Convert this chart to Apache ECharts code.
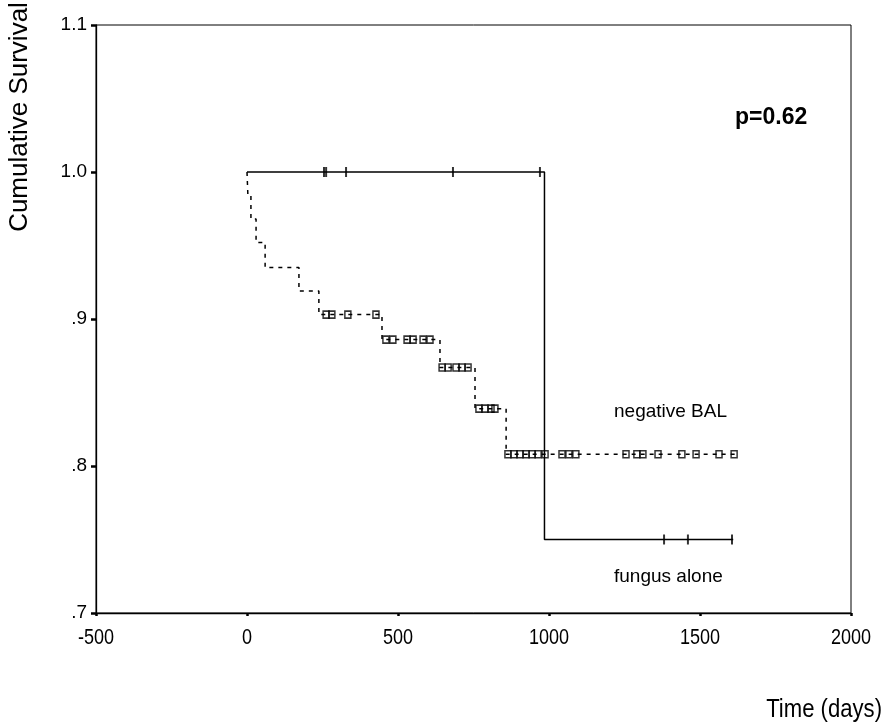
<!DOCTYPE html>
<html>
<head>
<meta charset="utf-8">
<script src="https://cdn.jsdelivr.net/npm/echarts@6/dist/echarts.min.js"></script>
<style>html,body{margin:0;padding:0;background:#fff}#c{width:883px;height:725px}</style>
</head>
<body>
<div id="c"></div>
<script>
// ---- data ----
const xTickValues = [-500, 0, 500, 1000, 1500, 2000];
const xTickLabels = ['-500', '0', '500', '1000', '1500', '2000'];
const yTickLabels = ['.7', '.8', '.9', '1.0', '1.1'];

// fungus alone (solid)
const fungusStepDays = [0, 985, 1610];
const fungusStepSurv = [1.0, 0.75, 0.75];
const fungusCensorDays = [255, 262, 328, 682, 970, 1381, 1460, 1606];

// negative BAL (dashed)
const negStepDays = [0, 3, 13, 30, 60, 172, 238, 447, 639, 755, 858, 1620];
const negStepSurv = [1.0, 0.984, 0.968, 0.952, 0.935, 0.919, 0.903, 0.886, 0.867, 0.839, 0.808, 0.808];
const negCensorDays = [262, 281, 334, 427, 460, 483, 530, 550, 583, 606, 646, 666, 692, 712, 732,
  768, 788, 808, 821, 864, 884, 904, 924, 944, 964, 987, 1043, 1066, 1089,
  1255, 1291, 1311, 1361, 1440, 1487, 1563, 1613];

function survAt(days, surv, t) {
  let s = surv[0];
  for (let i = 0; i < days.length; i++) { if (days[i] <= t) s = surv[i]; }
  return s;
}
const zip = (a, b) => a.map((v, i) => [v, b[i]]);

const FONT = '"Liberation Sans", Arial, sans-serif';
const chart = echarts.init(document.getElementById('c'), null, { renderer: 'canvas' });
chart.setOption({
  animation: false,
  backgroundColor: '#fff',
  grid: { left: 96, top: 25, right: 32, bottom: 112, show: true, borderColor: '#000', borderWidth: 1, backgroundColor: 'transparent' },
  xAxis: {
    type: 'value', min: -500, max: 2000, interval: 500,
    axisLine: { show: true, onZero: false, lineStyle: { color: '#000', width: 1.3 } },
    axisTick: { show: true, length: 3, lineStyle: { color: '#000', width: 2.5 } },
    axisLabel: { show: false },
    splitLine: { show: false }
  },
  yAxis: {
    type: 'value', min: 0.7, max: 1.1, interval: 0.1,
    axisLine: { show: true, onZero: false, lineStyle: { color: '#000', width: 1.3 } },
    axisTick: { show: true, length: 5, lineStyle: { color: '#000', width: 2.5 } },
    axisLabel: { color: '#000', fontFamily: FONT, fontSize: 19, margin: 9,
      formatter: v => yTickLabels[Math.round((v - 0.7) * 10)] },
    splitLine: { show: false }
  },
  series: [
    { type: 'line', step: 'end', symbol: 'none', data: zip(fungusStepDays, fungusStepSurv),
      lineStyle: { color: '#000', width: 1.5 } },
    { type: 'line', step: 'end', symbol: 'none', data: zip(negStepDays, negStepSurv),
      lineStyle: { color: '#000', width: 1.5, type: [4, 5] } },
    { type: 'scatter', symbol: 'rect', symbolSize: [2, 10],
      data: fungusCensorDays.map(d => [d, survAt(fungusStepDays, fungusStepSurv, d)]),
      itemStyle: { color: '#000' }, z: 5 },
    { type: 'scatter', symbol: 'rect', symbolSize: [6, 7],
      data: negCensorDays.map(d => [d, survAt(negStepDays, negStepSurv, d)]),
      itemStyle: { color: 'transparent', borderColor: '#000', borderWidth: 1.6 }, z: 5 }
  ]
});

// condensed x tick labels placed through the x axis scale
const axisY = chart.convertToPixel({ yAxisIndex: 0 }, 0.7);
const xLabelGraphics = xTickValues.map((v, i) => ({
  type: 'text',
  x: chart.convertToPixel({ xAxisIndex: 0 }, v),
  y: axisY + 25,
  scaleX: 0.82,
  style: { text: xTickLabels[i], font: '22px ' + FONT, fill: '#000', align: 'center', verticalAlign: 'middle' }
}));

chart.setOption({
  graphic: xLabelGraphics.concat([
    { type: 'text', x: 20, y: 117, rotation: Math.PI / 2, style: { text: 'Cumulative Survival', font: '26px ' + FONT, fill: '#000', align: 'center', verticalAlign: 'middle' } },
    { type: 'text', x: 882, y: 710, scaleX: 0.85, style: { text: 'Time (days)', font: '26px ' + FONT, fill: '#000', align: 'right', verticalAlign: 'middle' } },
    { type: 'text', x: 735, y: 118, style: { text: 'p=0.62', font: 'bold 23px ' + FONT, fill: '#000', align: 'left', verticalAlign: 'middle' } },
    { type: 'text', x: 614, y: 412, style: { text: 'negative BAL', font: '19px ' + FONT, fill: '#000', align: 'left', verticalAlign: 'middle' } },
    { type: 'text', x: 614, y: 577, style: { text: 'fungus alone', font: '19px ' + FONT, fill: '#000', align: 'left', verticalAlign: 'middle' } }
  ])
});
</script>
</body>
</html>
